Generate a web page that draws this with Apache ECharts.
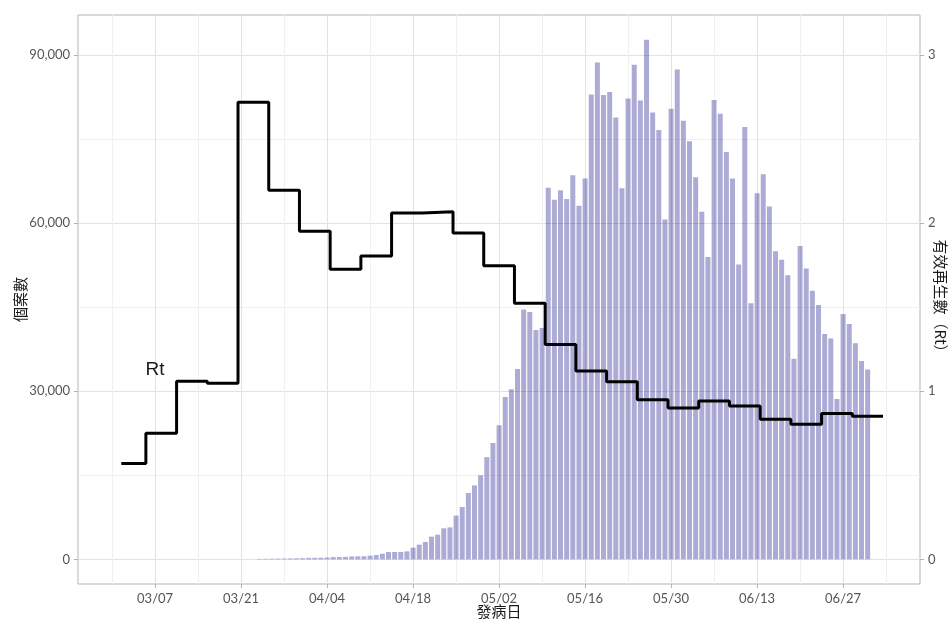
<!DOCTYPE html>
<html>
<head>
<meta charset="utf-8">
<script src="https://cdn.jsdelivr.net/npm/echarts@6/dist/echarts.min.js"></script>
<style>
  html, body { margin: 0; padding: 0; background: #fff; }
  #chart { width: 951px; height: 621px; }
</style>
</head>
<body>
<div id="chart"></div>
<script>
const YEAR = 2022;

// daily cases by onset date, starting at caseStart
const caseStart = "03/24";
const caseCounts = [
  80, 100, 110, 130, 150, 170, 190, 210,
  260, 280, 290, 320, 400, 420, 440, 520, 540, 560, 650, 770,
  1010, 1300, 1310, 1320, 1430, 2080, 2620, 3100, 4050, 4400,
  5540, 5710, 7800, 9340, 11840, 13200, 15000, 18250,
  20770, 23930, 28980, 30360, 33980, 44590, 44160, 40950, 41300, 66300,
  64160, 65890, 64290, 68570, 63090, 67950, 82980, 88660, 82860, 83410,
  78840, 66250, 82250, 88290, 81880, 92750, 79750, 76640, 60640, 80410, 87430,
  78290, 74600, 68180, 62050, 53950, 81960, 79520, 72700, 67950, 52610,
  77160, 45710, 65340, 68750, 62960, 54980, 53460, 50710, 35780, 55940,
  51890, 47950, 45410, 40200, 39410, 28630, 43800, 42000, 38570, 35390,
  33860
];

// Rt per period: period start dates, values, last period end
const rtStarts = [
  "03/02", "03/06", "03/11", "03/16", "03/21", "03/26", "03/31", "04/05",
  "04/10", "04/15", "04/20", "04/25", "04/30", "05/05", "05/10", "05/15",
  "05/20", "05/25", "05/30", "06/04", "06/09", "06/14", "06/19", "06/24", "06/29"
];
const rtValues = [
  0.57, 0.75, 1.06, 1.048, 2.72, 2.196, 1.952, 1.726,
  1.804, 2.06, 2.068, 1.942, 1.746, 1.524, 1.278, 1.12,
  1.057, 0.949, 0.901, 0.942, 0.913, 0.834, 0.803, 0.868, 0.852
];
const rtEnd = "07/03";

const xMajorTicks = ["03/07", "03/21", "04/04", "04/18", "05/02", "05/16", "05/30", "06/13", "06/27"];
const xMinorTicks = ["02/28", "03/14", "03/28", "04/11", "04/25", "05/09", "05/23", "06/06", "06/20", "07/04"];
const yMajorTicks = [0, 30000, 60000, 90000];
const yMinorTicks = [15000, 45000, 75000];
const rtTicks = [0, 1, 2, 3];

const ORIGIN = Date.UTC(YEAR, 2, 7);
const DAY = 86400000;

function dayIndex(md) {
  const [m, d] = md.split("/").map(Number);
  return Math.round((Date.UTC(YEAR, m - 1, d) - ORIGIN) / DAY);
}

function dayLabel(idx) {
  const t = new Date(ORIGIN + Math.round(idx) * DAY);
  const mm = String(t.getUTCMonth() + 1).padStart(2, "0");
  const dd = String(t.getUTCDate()).padStart(2, "0");
  return `${mm}/${dd}`;
}

const firstCaseDay = dayIndex(caseStart);
const barData = caseCounts.map((v, i) => [firstCaseDay + i, v]);
const rtData = rtStarts.map((d, i) => [dayIndex(d) - 0.5, rtValues[i]]);
rtData.push([dayIndex(rtEnd) + 0.5, rtValues[rtValues.length - 1]]);

const X_MIN = -12.55;
const X_MAX = 124.52;
const Y_MIN = -4400;
const Y_MAX = 97150;

const BORDER = "#b3b3b3";
const MAJOR_GRID = "#e2e2e2";
const MINOR_GRID = "#f0f0f0";
const LABEL = { color: "#555", fontSize: 13, fontFamily: "Lato" };
const TITLE = { color: "#1a1a1a", fontSize: 15, fontFamily: "Noto Sans CJK TC" };

const chart = echarts.init(document.getElementById("chart"));

chart.setOption({
  animation: false,
  grid: {
    left: 78, right: 31, top: 15, bottom: 37,
    outerBoundsMode: "none",
    containLabel: false,
    show: true, borderColor: BORDER, borderWidth: 1, backgroundColor: "transparent"
  },
  xAxis: [
    {
      type: "value", min: X_MIN, max: X_MAX, position: "bottom",
      name: "發病日", nameLocation: "middle", nameGap: 20, nameMoveOverlap: false, nameTextStyle: TITLE,
      axisLine: { show: false, onZero: false },
      axisTick: { show: true, length: 4, lineStyle: { color: BORDER }, customValues: xMajorTicks.map(dayIndex) },
      axisLabel: { ...LABEL, margin: 8, customValues: xMajorTicks.map(dayIndex), formatter: (v) => dayLabel(v) },
      splitLine: { show: true, lineStyle: { color: MAJOR_GRID, width: 1 } }
    },
    {
      type: "value", min: X_MIN, max: X_MAX, position: "bottom",
      axisLine: { show: false, onZero: false },
      axisTick: { show: false, customValues: xMinorTicks.map(dayIndex) },
      axisLabel: { show: false },
      splitLine: { show: true, lineStyle: { color: MINOR_GRID, width: 1 } }
    }
  ],
  yAxis: [
    {
      type: "value", min: Y_MIN, max: Y_MAX, position: "left",
      name: "個案數", nameLocation: "middle", nameGap: 50, nameRotate: 90, nameMoveOverlap: false, nameTextStyle: TITLE,
      axisLine: { show: false, onZero: false },
      axisTick: { show: true, length: 4, lineStyle: { color: BORDER }, customValues: yMajorTicks },
      axisLabel: { ...LABEL, margin: 8, customValues: yMajorTicks, formatter: (v) => v.toLocaleString("en-US") },
      splitLine: { show: true, lineStyle: { color: MAJOR_GRID, width: 1 } }
    },
    {
      type: "value", min: Y_MIN / 30000, max: Y_MAX / 30000, position: "right",
      name: "有效再生數（Rt）", nameLocation: "middle", nameGap: 13, nameRotate: -90, nameMoveOverlap: false, nameTextStyle: TITLE,
      axisLine: { show: false, onZero: false },
      axisTick: { show: true, length: 4, lineStyle: { color: BORDER }, customValues: rtTicks },
      axisLabel: { ...LABEL, margin: 8, customValues: rtTicks },
      splitLine: { show: false }
    },
    {
      type: "value", min: Y_MIN, max: Y_MAX, position: "left",
      axisLine: { show: false, onZero: false },
      axisTick: { show: false, customValues: yMinorTicks },
      axisLabel: { show: false },
      splitLine: { show: true, lineStyle: { color: MINOR_GRID, width: 1 } }
    }
  ],
  series: [
    {
      name: "個案數",
      type: "bar",
      xAxisIndex: 0,
      yAxisIndex: 0,
      barWidth: 5,
      data: barData,
      itemStyle: { color: "rgba(0, 0, 128, 0.33)" },
      z: 2
    },
    {
      name: "Rt",
      type: "line",
      xAxisIndex: 0,
      yAxisIndex: 1,
      step: "end",
      symbol: "none",
      data: rtData,
      lineStyle: { color: "#000", width: 3 },
      z: 3,
      markPoint: {
        symbol: "circle",
        symbolSize: 0,
        data: [{ coord: [dayIndex("03/07"), 1.13] }],
        label: { show: true, position: "inside", formatter: "Rt", color: "#1a1a1a", fontSize: 19, fontFamily: "Liberation Sans" }
      }
    }
  ]
});
</script>
</body>
</html>
